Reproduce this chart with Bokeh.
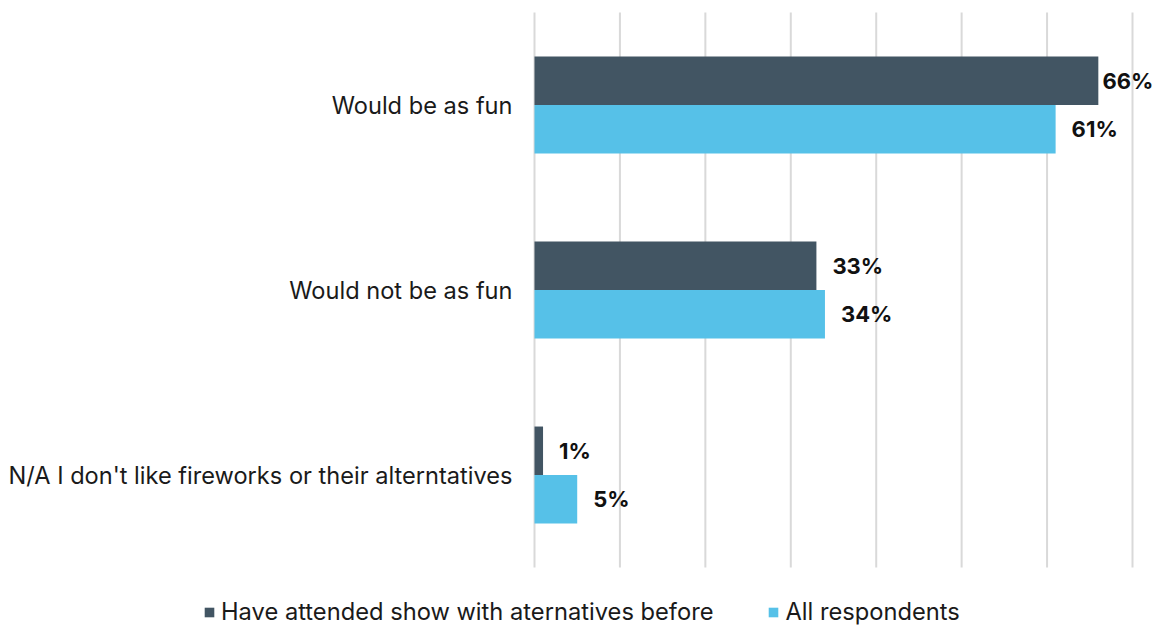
from bokeh.plotting import figure
from bokeh.models import Range1d, ColumnDataSource, Legend, LegendItem
from bokeh.core.properties import value
from bokeh.embed import file_html
from bokeh.resources import INLINE

categories = ["Would be as fun", "Would not be as fun", "N/A I don't like fireworks or their alterntatives"]
series_names = ["Have attended show with aternatives before", "All respondents"]
attended = [66, 33, 1]
all_resp = [61, 34, 5]
x_max = 70
x_ticks = [0, 10, 20, 30, 40, 50, 60, 70]

dark = "#425563"
light = "#56C1E8"
grid_color = "#D9D9D9"
text_color = "#1A1A1A"
font = "Inter"

# layout in pixels
W, H = 1154, 627
area_left, area_right = 534, 1132   # plot area (0 .. x_max)
area_top, area_bottom = 12, 567
n = len(categories)

ppu_x = (area_right - area_left) / x_max
band = (area_bottom - area_top) / n
y_start = -0.5 - (H - area_bottom) / band
y_end = n - 0.5 + area_top / band

p = figure(width=W, height=H, output_backend="svg", toolbar_location=None,
           x_range=Range1d(-area_left / ppu_x, (W - area_left) / ppu_x),
           y_range=Range1d(y_start, y_end),
           min_border=0, min_border_left=0, min_border_right=0,
           min_border_top=0, min_border_bottom=0)
p.outline_line_color = None
p.axis.visible = False
p.grid.visible = False
p.background_fill_color = "white"

# gridlines limited to plot area
p.segment(x0=x_ticks, x1=x_ticks, y0=[-0.5] * len(x_ticks), y1=[n - 0.5] * len(x_ticks),
          line_color=grid_color, line_width=2)

ypos = [n - 1 - i for i in range(n)]
bh = 0.262

def offsets(vals, w_label=48):
    out = []
    for v in vals:
        end = area_left + v * ppu_x
        out.append(min(16, W - 4 - w_label - end))
    return out

src = ColumnDataSource(dict(
    cat=categories, y=ypos,
    ya=[y + bh / 2 for y in ypos], yb=[y - bh / 2 for y in ypos],
    a=attended, b=all_resp,
    a_lbl=[f"{v}%" for v in attended], b_lbl=[f"{v}%" for v in all_resp],
    a_off=offsets(attended), b_off=offsets(all_resp),
    zero=[0] * n,
))

r1 = p.hbar(y="ya", right="a", left=0, height=bh, source=src, fill_color=dark, line_color=None)
r2 = p.hbar(y="yb", right="b", left=0, height=bh, source=src, fill_color=light, line_color=None)

# category labels
p.text(x="zero", y="y", text="cat", source=src, x_offset=-22,
       text_align="right", text_baseline="middle",
       text_font=value(font), text_font_size="23.6px", text_color=text_color)

# value labels
for col, yc, lbl, off in [("a", "ya", "a_lbl", "a_off"), ("b", "yb", "b_lbl", "b_off")]:
    p.text(x=col, y=yc, text=lbl, source=src, x_offset=off,
           text_align="left", text_baseline="middle",
           text_font=value(font), text_font_size="22px", text_font_style="bold",
           text_color="#111111")

legend = Legend(items=[LegendItem(label=series_names[0], renderers=[r1]),
                       LegendItem(label=series_names[1], renderers=[r2])],
                orientation="horizontal", location=(203, 1),
                glyph_width=12, glyph_height=12, label_standoff=6, spacing=54,
                margin=0, padding=0, border_line_color=None, background_fill_alpha=0,
                label_text_font=font, label_text_font_size="23.7px", label_text_color=text_color,
                label_height=16)
p.add_layout(legend, "center")

open("out.html", "w").write(file_html(p, INLINE))
